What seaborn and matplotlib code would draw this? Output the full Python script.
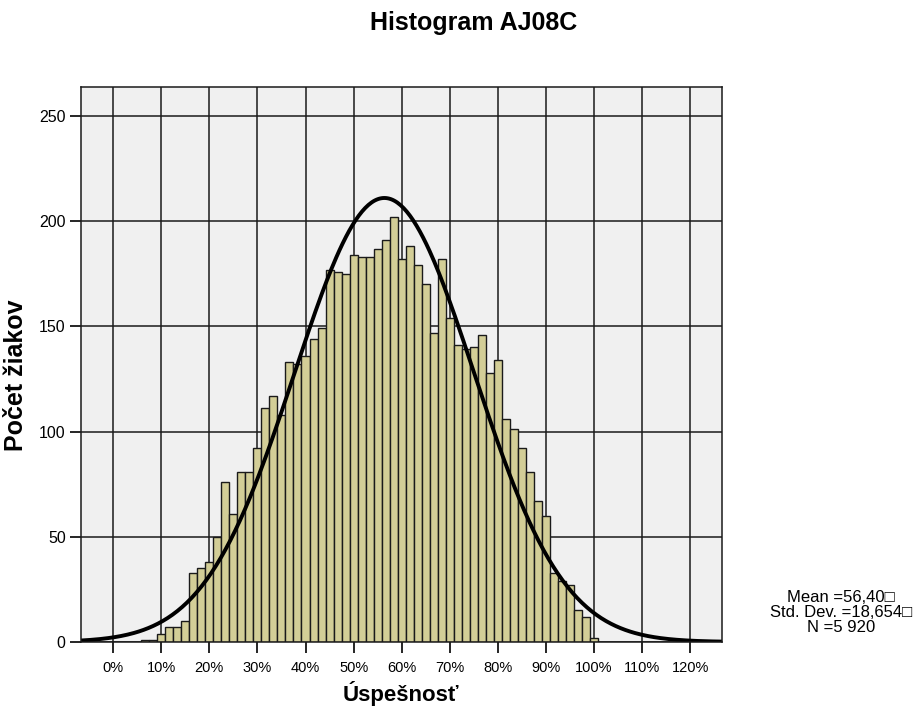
import numpy as np
import pandas as pd
import matplotlib
matplotlib.use("Agg")
import matplotlib.pyplot as plt
import seaborn as sns

# score k out of 60 -> percent of success
scores = list(range(4, 61))
counts = [1, 1, 4, 7, 7, 10, 33, 35, 38, 50,
          76, 61, 81, 81, 92, 111, 117, 108, 133, 132,
          136, 144, 149, 177, 176, 175, 184, 183, 183, 187,
          191, 202, 182, 188, 179, 170, 147, 182, 154, 141,
          139, 140, 146, 128, 134, 106, 101, 92, 81, 67,
          60, 33, 29, 27, 15, 12, 2]
max_score = 60
mean_val = 56.40
sd_val = 18.654
n_total = 5920

x_ticks = list(range(0, 130, 10))
x_tick_labels = [f"{v}%" for v in x_ticks]
y_ticks = [0, 50, 100, 150, 200, 250]

title = "Histogram AJ08C"
x_label = "Úspešnosť"
y_label = "Počet žiakov"
stats_text = "Mean =56,40\u25a1\nStd. Dev. =18,654\u25a1\nN =5 920"

df = pd.DataFrame({
    "pct": [s * 100 / max_score for s in scores],
    "count": counts,
})
bw = 100 / max_score
lo = (scores[0] - 0.5) * bw
hi = (scores[-1] + 0.5) * bw

sns.set_style("white")
plt.rcParams['font.family'] = ['Liberation Sans', 'DejaVu Sans']
plt.rcParams['text.color'] = 'black'
plt.rcParams['axes.labelcolor'] = 'black'

fig = plt.figure(figsize=(9.17, 7.06), dpi=100)
ax = fig.add_axes([0.0883, 0.0907, 0.6987, 0.7856])
ax.set_facecolor("#F0F0F0")

xmin, xmax = -6.70, 126.56

ax.set_axisbelow(True)
ax.grid(True, color="#1a1a1a", linewidth=1.1)

sns.histplot(data=df, x="pct", weights="count", binwidth=bw, binrange=(lo, hi),
             color="#D3CE97", alpha=1.0, edgecolor="#1a1a1a",
             linewidth=1.0, ax=ax)

# fitted normal curve from the reported statistics
xs = np.linspace(xmin, xmax, 400)
ys = n_total * bw / (sd_val * np.sqrt(2 * np.pi)) * np.exp(-0.5 * ((xs - mean_val) / sd_val) ** 2)
sns.lineplot(x=xs, y=ys, color="black", linewidth=2.8, ax=ax)

ax.set_xlim(xmin, xmax)
ax.set_ylim(0, 263.6)

ax.set_xticks(x_ticks)
ax.set_xticklabels(x_tick_labels, fontsize=10.5)
ax.set_yticks(y_ticks)
ax.set_yticklabels([str(v) for v in y_ticks], fontsize=11.5)
ax.tick_params(axis="both", direction="out", length=8, width=1.2, color="black",
               labelcolor="black", bottom=True, left=True)
ax.tick_params(axis="x", pad=6)
ax.tick_params(axis="y", pad=3)

for sp in ax.spines.values():
    sp.set_color("#1a1a1a")
    sp.set_linewidth(1.1)
    sp.set_visible(True)

ax.set_xlabel(x_label, fontsize=16, fontweight="bold", labelpad=4)
ax.set_ylabel(y_label, fontsize=18, fontweight="bold")
ax.yaxis.set_label_coords(-0.082, 0.48)

fig.text(0.517, 0.967, title, ha="center", va="center", fontsize=18, fontweight="bold")
fig.text(0.917, 0.133, stats_text, ha="center", va="center", fontsize=12, linespacing=1.0)

fig.savefig("out.png", dpi=100)
